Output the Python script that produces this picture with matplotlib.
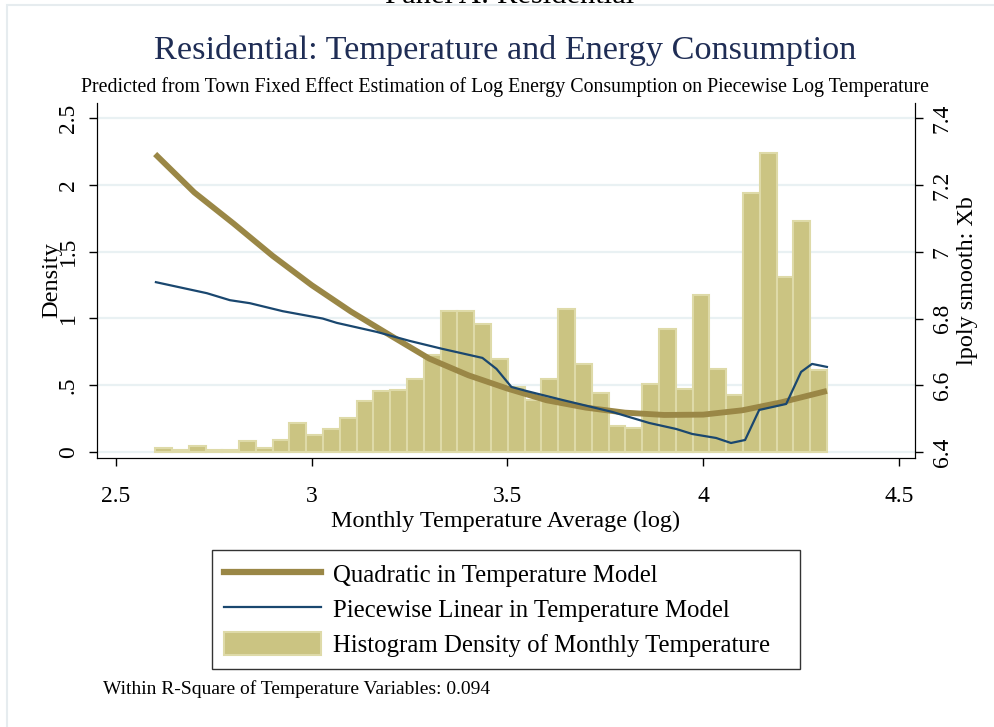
import matplotlib
matplotlib.use('Agg')
import matplotlib.pyplot as plt
from matplotlib.lines import Line2D
from matplotlib.patches import Patch, Rectangle
import numpy as np

plt.rcParams['font.family'] = ['Liberation Serif', 'DejaVu Serif']

# histogram of monthly log temperature (density)
bin_start = 2.6
bin_width = 0.0429
density = [0.03, 0.015, 0.045, 0.017, 0.015, 0.08, 0.03, 0.09, 0.22, 0.13,
           0.17, 0.255, 0.38, 0.455, 0.465, 0.545, 0.73, 1.056, 1.056, 0.96,
           0.70, 0.49, 0.39, 0.545, 1.07, 0.66, 0.44, 0.195, 0.18, 0.51,
           0.92, 0.47, 1.175, 0.62, 0.425, 1.94, 2.24, 1.31, 1.73, 0.615]

# quadratic model (lpoly smooth of Xb)
quad_x = [2.6, 2.7, 2.8, 2.9, 3.0, 3.1, 3.2, 3.3, 3.4, 3.5, 3.6, 3.7, 3.8,
          3.9, 4.0, 4.1, 4.2, 4.316]
quad_y = [7.293, 7.178, 7.085, 6.988, 6.90, 6.821, 6.75, 6.68, 6.63, 6.59,
          6.555, 6.533, 6.518, 6.511, 6.512, 6.525, 6.549, 6.583]

# piecewise linear model
pw_x = [2.602, 2.732, 2.791, 2.842, 2.926, 3.028, 3.064, 3.166, 3.25, 3.334,
        3.436, 3.472, 3.51, 3.548, 3.64, 3.768, 3.862, 3.931, 3.972, 4.033,
        4.071, 4.107, 4.143, 4.212, 4.25, 4.278, 4.316]
pw_y = [6.909, 6.876, 6.855, 6.846, 6.822, 6.80, 6.787, 6.76, 6.733, 6.709,
        6.682, 6.649, 6.595, 6.583, 6.556, 6.52, 6.487, 6.469, 6.454, 6.442,
        6.427, 6.436, 6.526, 6.544, 6.64, 6.664, 6.655]

x_ticks = [2.5, 3, 3.5, 4, 4.5]
x_labels = ['2.5', '3', '3.5', '4', '4.5']
left_ticks = [0, 0.5, 1, 1.5, 2, 2.5]
left_labels = ['0', '.5', '1', '1.5', '2', '2.5']
right_ticks = [6.4, 6.6, 6.8, 7.0, 7.2, 7.4]
right_labels = ['6.4', '6.6', '6.8', '7', '7.2', '7.4']

bar_fill = '#cbc482'
bar_edge = '#dedaa8'
quad_col = '#9a8746'
pw_col = '#1a476f'
grid_col = '#e9f1f3'

fig = plt.figure(figsize=(9.95, 7.27), dpi=100)
fig.patches.append(Rectangle((7 / 995, -0.1), 1.2, 1 - 5 / 727 + 0.1,
                             transform=fig.transFigure, fill=False,
                             edgecolor='#e6ecef', linewidth=1.5))

ax = fig.add_axes([97 / 995, 1 - 458 / 727, 818 / 995, 355 / 727])
edges = bin_start + bin_width * np.arange(len(density))
ax.bar(edges, density, width=bin_width, align='edge', color=bar_fill,
       edgecolor=bar_edge, linewidth=1.5, zorder=2)
ax.set_xlim(2.4515, 4.541)
ax.set_ylim(-0.045, 2.614)
for t in left_ticks:
    ax.axhline(t, color=grid_col, linewidth=1.6, zorder=1)
ax.set_xticks(x_ticks)
ax.set_xticklabels(x_labels)
ax.set_yticks(left_ticks)
ax.set_yticklabels(left_labels, rotation=90, va='center')
ax.tick_params(direction='out', length=6, width=1, labelsize=17)
ax.tick_params(axis='x', pad=14)
ax.tick_params(axis='y', pad=7)
ax.set_ylabel('Density', fontsize=17.5, labelpad=-3)
ax.set_xlabel('Monthly Temperature Average (log)', fontsize=17.4, labelpad=3)
ax.spines['top'].set_visible(False)

ax2 = ax.twinx()
ax2.plot(quad_x, quad_y, color=quad_col, linewidth=4.2, solid_capstyle='butt', zorder=3)
ax2.plot(pw_x, pw_y, color=pw_col, linewidth=1.6, zorder=4)
ax2.set_ylim(6.382, 7.446)
ax2.set_yticks(right_ticks)
ax2.set_yticklabels(right_labels, rotation=90, va='center')
ax2.tick_params(direction='out', length=6, width=1, labelsize=17, pad=6)
ax2.set_ylabel('lpoly smooth: Xb', fontsize=17.4, labelpad=3)
ax2.spines['top'].set_visible(False)

fig.text(0.508, 1 - 51 / 727, 'Residential: Temperature and Energy Consumption',
         ha='center', va='center', fontsize=24.7, color='#1f2d55')
fig.text(0.508, 1 - 87 / 727,
         'Predicted from Town Fixed Effect Estimation of Log Energy Consumption on Piecewise Log Temperature',
         ha='center', va='center', fontsize=14.3)
fig.text(510 / 995, 1 - 3 / 727, 'Panel A: Residential', ha='center',
         va='baseline', fontsize=22)

handles = [Line2D([], [], color=quad_col, linewidth=4.5),
           Line2D([], [], color=pw_col, linewidth=1.6),
           Patch(facecolor=bar_fill, edgecolor=bar_edge, linewidth=1.5)]
labels = ['Quadratic in Temperature Model',
          'Piecewise Linear in Temperature Model',
          'Histogram Density of Monthly Temperature']
leg = fig.legend(handles, labels, loc='upper left', mode='expand',
                 bbox_to_anchor=(212 / 995, 1 - 665 / 727, 588 / 995, 115 / 727),
                 fontsize=17.8, frameon=True, fancybox=False, edgecolor='black',
                 handlelength=3.9, handleheight=1.05, handletextpad=0.5,
                 labelspacing=0.4, borderpad=0.5, borderaxespad=0)
leg.get_frame().set_linewidth(1)

fig.text(103 / 995, 1 - 689 / 727,
         'Within R-Square of Temperature Variables: 0.094',
         ha='left', va='center', fontsize=14)

fig.savefig('out.png', dpi=100)
